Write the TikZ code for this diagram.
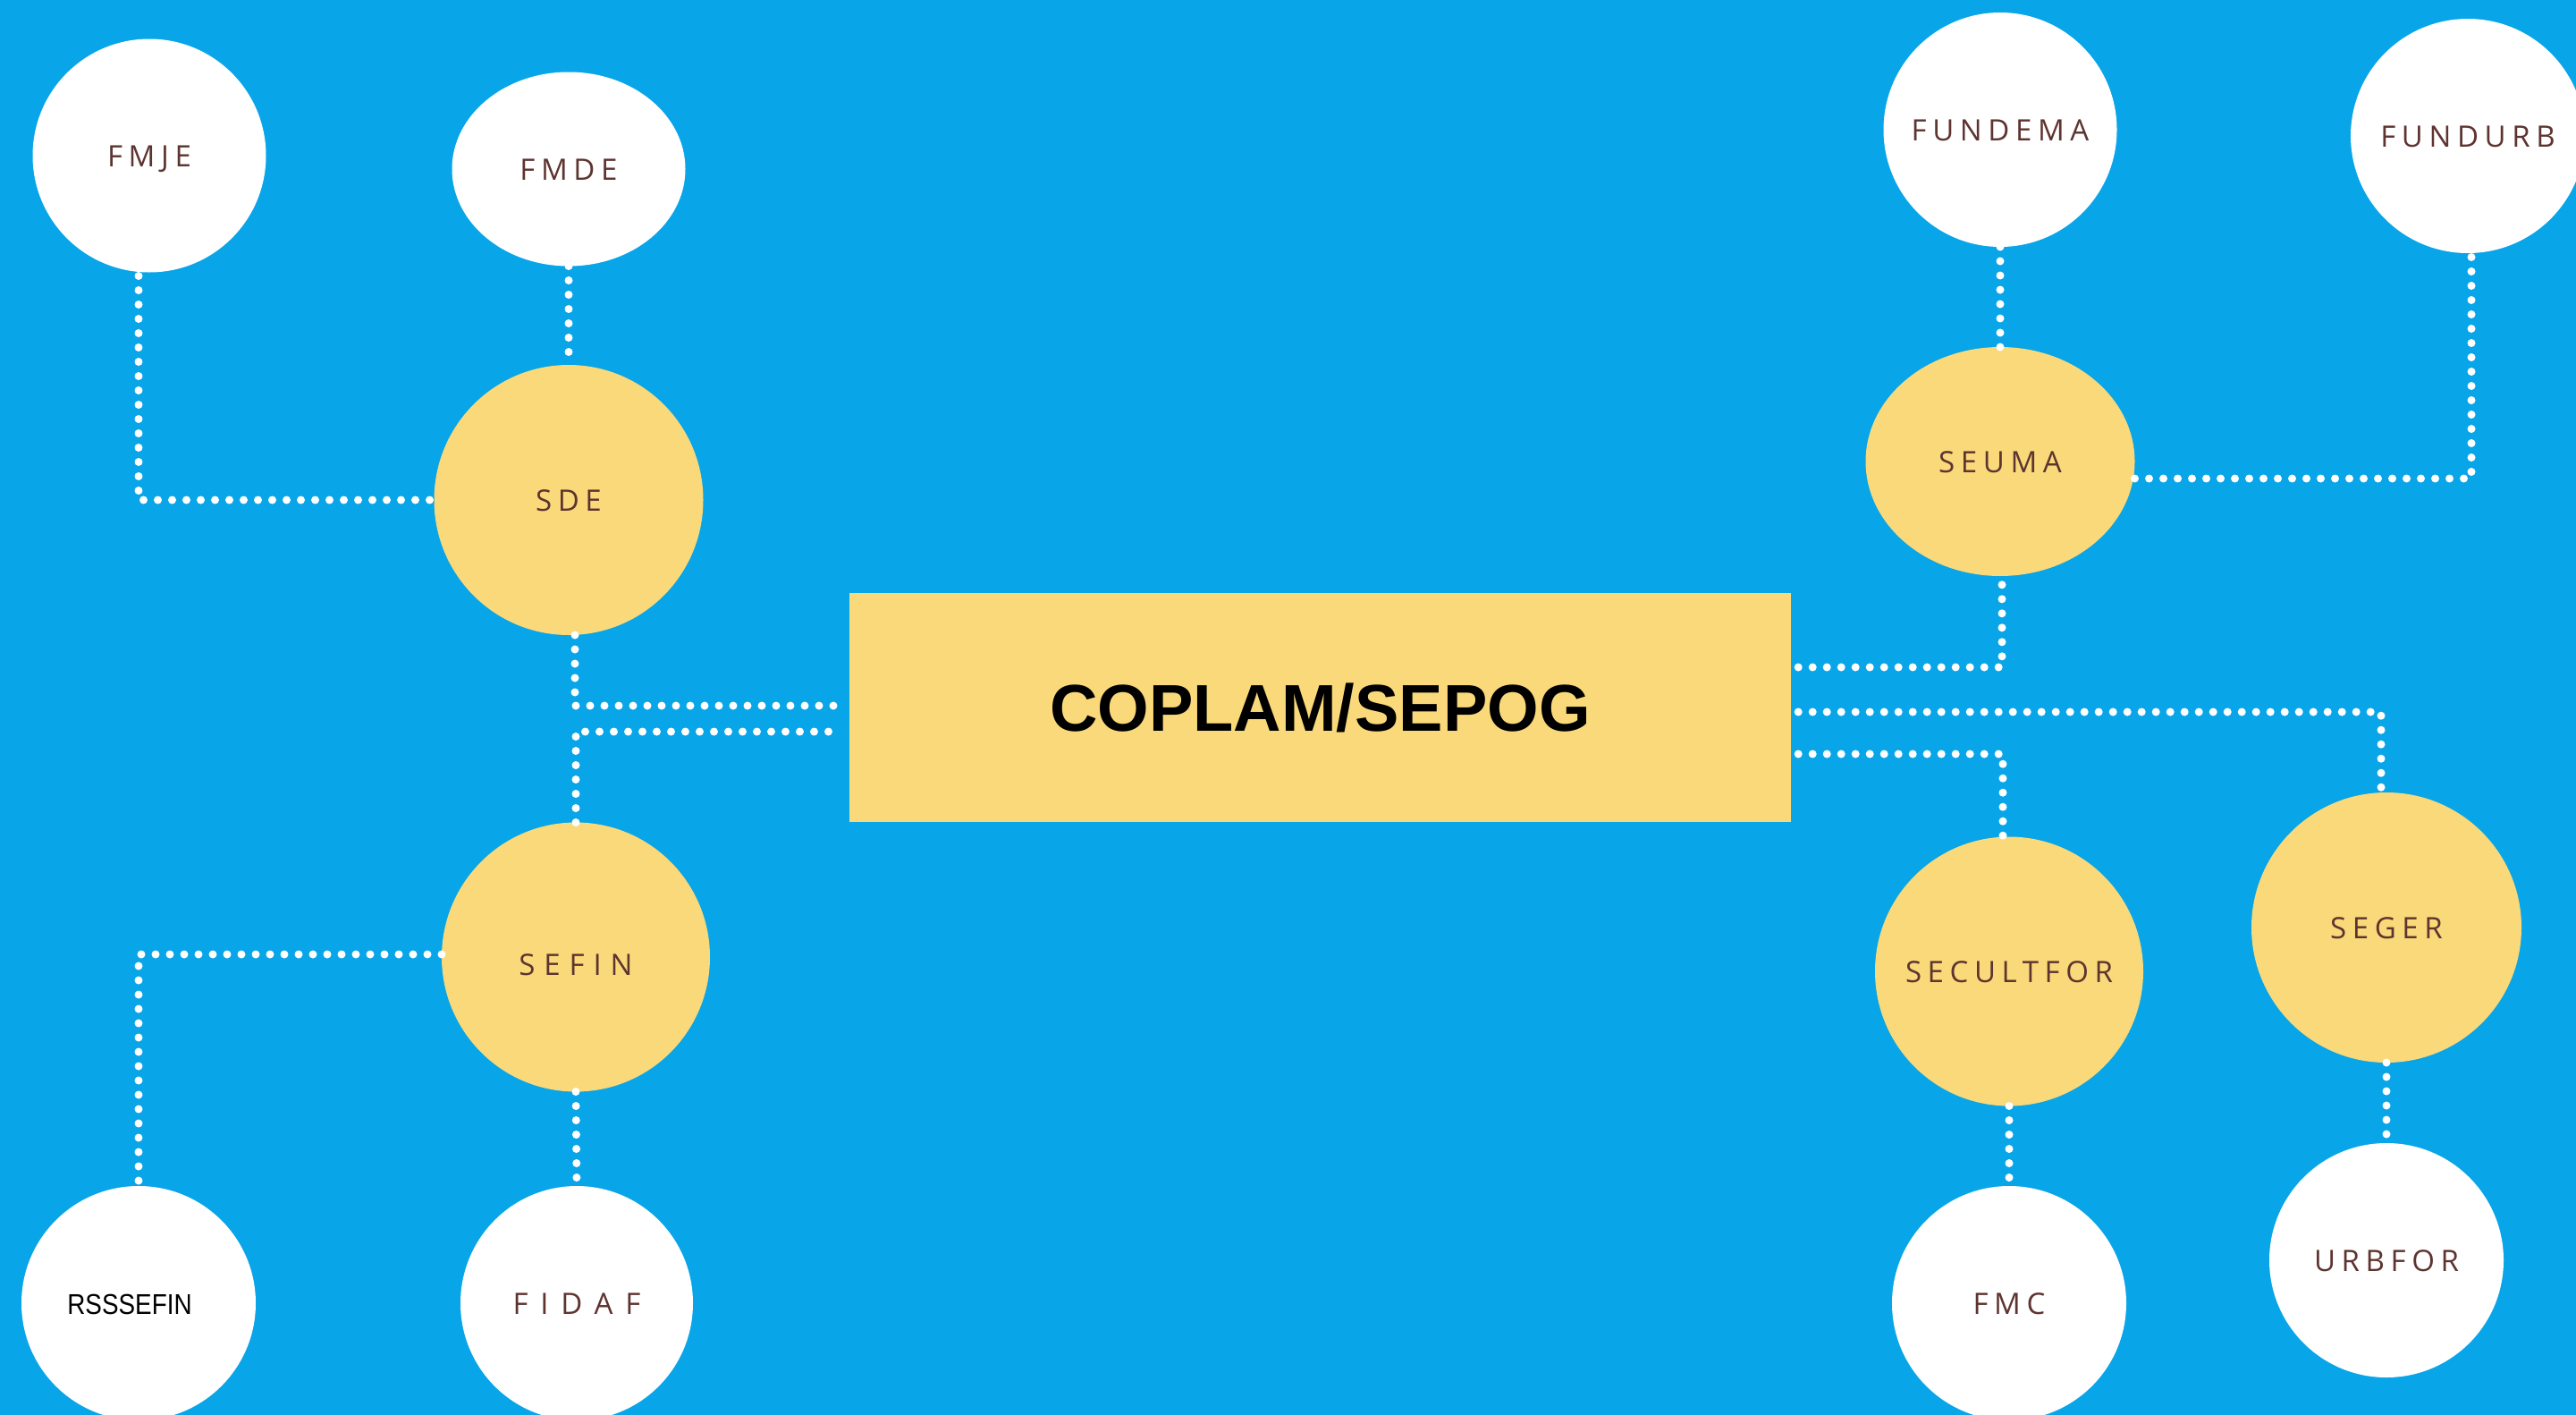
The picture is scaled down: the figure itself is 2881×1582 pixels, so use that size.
\documentclass[tikz,border=0pt]{standalone}
\usepackage{fontspec}
\setmainfont{Liberation Sans}
\newfontfamily\lblA[LetterSpace=20]{Open Sans}
\newfontfamily\lblB[LetterSpace=30]{Open Sans}
\newfontfamily\lblC[LetterSpace=42]{Open Sans}
\usetikzlibrary{shapes.geometric,calc}
\definecolor{bgblue}{RGB}{8,165,233}
\definecolor{ylw}{RGB}{249,217,121}
\definecolor{brn}{RGB}{94,52,48}
\newcommand{\ctrtext}[1]{\makebox[0pt][c]{#1}}
\begin{document}
\begin{tikzpicture}[x=1pt,y=-1pt,
  bubble/.style={ellipse,inner sep=0pt,outer sep=0pt,text=brn,
    font=\lblA\fontsize{33}{40}\selectfont,text height=24pt,text depth=0pt},
  wb/.style={bubble,fill=white},
  yb/.style={bubble,fill=ylw},
  dotline/.style={draw=white,line width=9pt,line cap=round,dash pattern=on 0pt off 16pt}]
\useasboundingbox (0,0) rectangle (2881,1582);
\clip (0,0) rectangle (2881,1582);
\fill[bgblue] (0,0) rectangle (2881,1582);

% central box
\node[fill=ylw,minimum width=1053pt,minimum height=256pt,inner sep=0pt,
  font=\bfseries\fontsize{74}{80}\selectfont,text=black] (cop) at (1476.5,791) {COPLAM/SEPOG};

% left side
\node[wb,minimum width=261pt,minimum height=261pt] (fmje) at (167,174) {\ctrtext{FMJE}};
\node[wb,minimum width=261pt,minimum height=217pt] (fmde) at (636,189) {\ctrtext{FMDE}};
\node[yb,minimum width=301pt,minimum height=302pt] (sde) at (636,559) {\ctrtext{SDE}};
\node[yb,minimum width=300pt,minimum height=301pt,text height=40pt,
  font=\lblB\fontsize{33}{40}\selectfont] (sefin) at (644,1070) {\ctrtext{SEFIN}};
\node[wb,minimum width=262pt,minimum height=262pt,text=black,
  font=\fontsize{32}{38}\selectfont] (rss) at (155,1457) {\ctrtext{\scalebox{0.87}[1]{RSSSEFIN}\hspace*{20pt}}};
\node[wb,minimum width=260pt,minimum height=262pt,font=\lblC\fontsize{33}{40}\selectfont] (fidaf) at (645,1457) {\ctrtext{FIDAF}};

% right side
\node[wb,minimum width=261pt,minimum height=262pt] (fundema) at (2237,145) {\ctrtext{FUNDEMA}};
\node[wb,minimum width=262pt,minimum height=262pt] (fundurb) at (2760,152) {\ctrtext{FUNDURB}};
\node[yb,minimum width=301pt,minimum height=256pt] (seuma) at (2237,516) {\ctrtext{SEUMA}};
\node[yb,minimum width=300pt,minimum height=301pt] (secult) at (2247,1086) {\ctrtext{SECULTFOR}};
\node[yb,minimum width=302pt,minimum height=302pt] (seger) at (2669,1037) {\ctrtext{SEGER}};
\node[wb,minimum width=262pt,minimum height=262pt] (fmc) at (2247,1457) {\ctrtext{FMC}};
\node[wb,minimum width=262pt,minimum height=262pt] (urbfor) at (2669,1409) {\ctrtext{URBFOR}};

% connectors left
\draw[dotline] ($(fmje.south)+(-12,4)$) |- (sde.west);
\draw[dotline] (fmde.south) -- (sde.north);
\draw[dotline] ($(sde.south)+(7,0)$) |- ($(cop.west)+(-17,-2)$);
\draw[dotline] (sefin.north) |- ($(cop.west)+(-17,27)$);
\draw[dotline] ($(sefin.west)+(0,-3)$) -| (rss.north);
\draw[dotline] (sefin.south) -- (fidaf.north);

% connectors right
\draw[dotline] ($(cop.east)+(8,-45)$) -| ($(seuma.south)+(2,0)$);
\draw[dotline] (fundema.south) -- (seuma.north);
\draw[dotline] ($(seuma.east)+(0,19)$) -| ($(fundurb.south)+(4,0)$);
\draw[dotline] ($(cop.east)+(8,5)$) -| ($(seger.north)+(-6,0)$);
\draw[dotline] ($(cop.east)+(8,52)$) -| ($(secult.north)+(-7,0)$);
\draw[dotline] (secult.south) -- (fmc.north);
\draw[dotline] (seger.south) -- (urbfor.north);
\end{tikzpicture}
\end{document}
